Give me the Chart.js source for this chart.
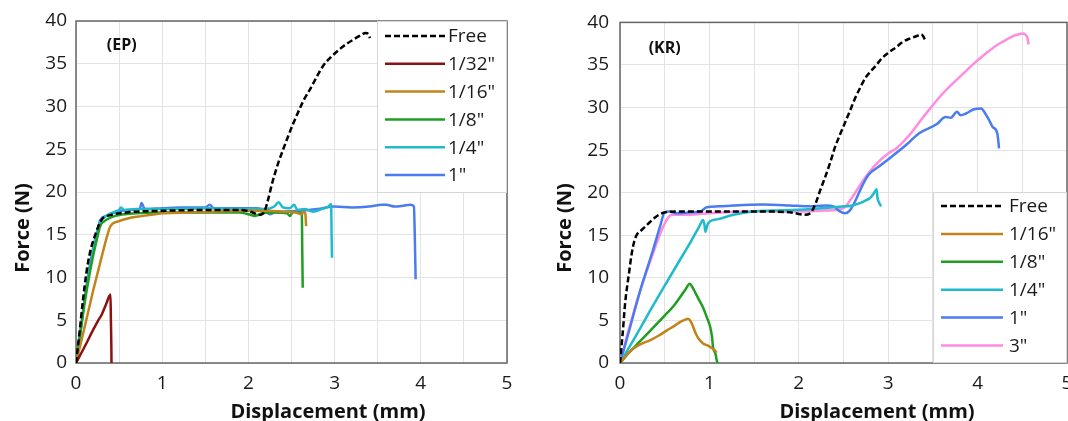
<!DOCTYPE html>
<html><head><meta charset="utf-8">
<script src="https://cdn.jsdelivr.net/npm/chart.js@4.4.1/dist/chart.umd.min.js"></script>
<style>
html,body{margin:0;padding:0;width:1068px;height:421px;overflow:hidden;background:#fff;}
#wl{position:absolute;left:0;top:0;width:534px;height:421px;}
#wr{position:absolute;left:534px;top:0;width:560px;height:421px;}
canvas{display:block;}
</style></head><body>
<div id="wl"><canvas id="cl" width="534" height="421" style="width:534px;height:421px"></canvas></div>
<div id="wr"><canvas id="cr" width="560" height="421" style="width:560px;height:421px"></canvas></div>
<script>
// ---------- data (displacement mm, force N) ----------
const xTickValues = [0, 1, 2, 3, 4, 5];
const yTickValues = [0, 5, 10, 15, 20, 25, 30, 35, 40];

const epLabels = ['Free', '1/32"', '1/16"', '1/8"', '1/4"', '1"'];
const krLabels = ['Free', '1/16"', '1/8"', '1/4"', '1"', '3"'];

const epFree = [[0,0],[0.04,3.5],[0.08,7.3],[0.12,10.5],[0.16,12.8],[0.22,14.9],[0.3,16.8],[0.4,17.3],[0.5,17.5],[0.7,17.7],[1.0,17.8],[1.5,17.9],[1.9,17.9],[2.05,17.6],[2.12,17.3],[2.18,17.6],[2.22,18.8],[2.28,21.2],[2.34,23.2],[2.40,24.9],[2.46,26.5],[2.52,28.0],[2.58,29.4],[2.64,30.7],[2.72,32.1],[2.8,33.6],[2.87,34.8],[2.97,35.9],[3.07,36.8],[3.15,37.4],[3.23,37.9],[3.3,38.3],[3.36,38.6],[3.39,38.5],[3.41,38.0]];
const ep132 = [[0,0],[0.1,1.9],[0.2,3.9],[0.27,5.2],[0.29,5.5],[0.35,6.9],[0.4,8.0],[0.405,5],[0.41,2],[0.412,0]];
const ep116 = [[0,0],[0.1,4.2],[0.2,8.5],[0.3,12.5],[0.36,14.8],[0.4,16.0],[0.5,16.6],[0.6,16.9],[0.7,17.1],[0.85,17.3],[1.0,17.5],[1.3,17.6],[1.6,17.7],[2.0,17.8],[2.2,17.8],[2.4,17.7],[2.55,17.6],[2.62,17.4],[2.64,17.7],[2.66,17.5],[2.67,16.0]];
const ep18 = [[0,0],[0.05,3.5],[0.1,7.0],[0.15,10],[0.2,12.6],[0.25,14.8],[0.28,16.0],[0.33,16.6],[0.4,17.0],[0.5,17.3],[0.7,17.5],[1.0,17.6],[1.5,17.6],[1.9,17.6],[2.0,17.4],[2.08,17.2],[2.15,17.5],[2.3,17.6],[2.45,17.5],[2.48,17.2],[2.52,17.7],[2.58,17.6],[2.62,17.4],[2.625,13],[2.63,8.8]];
const ep14 = [[0,0],[0.05,3.5],[0.1,7.3],[0.15,10.5],[0.2,13.2],[0.25,15.5],[0.28,16.5],[0.35,17.2],[0.45,17.7],[0.5,17.9],[0.52,18.2],[0.56,17.9],[0.7,18.0],[1.0,18.0],[1.5,18.1],[2.0,18.0],[2.2,18.0],[2.3,18.3],[2.35,18.8],[2.4,18.2],[2.48,18.1],[2.53,18.5],[2.57,17.9],[2.65,18.0],[2.75,17.7],[2.85,18.0],[2.93,18.3],[2.96,18.6],[2.965,15],[2.97,12.3]];
const ep1 = [[0,0],[0.05,3.6],[0.1,7.5],[0.15,10.8],[0.2,13.5],[0.25,15.6],[0.28,16.7],[0.35,17.2],[0.45,17.6],[0.6,17.9],[0.74,18.0],[0.76,18.7],[0.8,18.0],[1.0,18.1],[1.2,18.2],[1.5,18.2],[1.55,18.5],[1.6,18.1],[1.9,18.1],[2.1,18.1],[2.18,17.9],[2.25,17.4],[2.3,17.6],[2.4,17.7],[2.6,17.8],[2.8,18.0],[3.0,18.3],[3.2,18.2],[3.4,18.3],[3.55,18.5],[3.6,18.5],[3.7,18.3],[3.8,18.4],[3.88,18.5],[3.92,18.3],[3.93,15],[3.94,9.8]];

const krFree = [[0,0],[0.03,3.5],[0.06,7.3],[0.1,10.5],[0.13,12.8],[0.16,14.3],[0.19,15.1],[0.23,15.5],[0.27,15.9],[0.33,16.5],[0.38,17.0],[0.45,17.5],[0.51,17.7],[0.7,17.8],[1.0,17.8],[1.5,17.8],[1.9,17.7],[2.0,17.5],[2.06,17.4],[2.13,17.6],[2.19,18.8],[2.24,20.3],[2.29,21.7],[2.35,23.5],[2.4,25.2],[2.46,26.8],[2.52,28.3],[2.58,29.8],[2.63,31.1],[2.69,32.4],[2.74,33.4],[2.8,34.2],[2.86,34.9],[2.93,35.8],[3.01,36.5],[3.09,37.1],[3.16,37.7],[3.24,38.1],[3.32,38.4],[3.37,38.6],[3.39,38.4],[3.41,38.0]];
const kr116 = [[0,0],[0.08,1.0],[0.15,1.7],[0.25,2.3],[0.34,2.7],[0.43,3.2],[0.52,3.8],[0.6,4.3],[0.67,4.8],[0.73,5.1],[0.76,5.2],[0.79,4.9],[0.82,4.2],[0.85,3.4],[0.88,2.85],[0.93,2.3],[0.97,2.1],[1.01,1.87],[1.06,1.5],[1.08,1.2]];
const kr18 = [[0,0],[0.1,1.2],[0.2,2.3],[0.34,3.8],[0.43,4.8],[0.52,5.8],[0.6,6.7],[0.67,7.7],[0.73,8.6],[0.78,9.3],[0.81,8.9],[0.84,8.3],[0.88,7.5],[0.93,6.5],[0.97,5.4],[1.01,4.2],[1.03,3.0],[1.04,1.9],[1.07,1.0],[1.08,0.4],[1.09,0]];
const kr14 = [[0,0],[0.1,1.8],[0.2,3.6],[0.34,6.2],[0.5,9.1],[0.71,12.8],[0.8,14.4],[0.88,15.9],[0.93,16.8],[0.945,16.2],[0.955,15.4],[0.98,16.3],[1.01,16.65],[1.1,16.9],[1.27,17.4],[1.49,17.8],[1.7,17.9],[2.0,18.0],[2.3,18.2],[2.52,18.4],[2.6,18.5],[2.69,18.8],[2.75,19.1],[2.8,19.4],[2.85,20.1],[2.87,20.4],[2.88,19.4],[2.9,18.8],[2.92,18.4]];
const kr1 = [[0,0],[0.1,3.7],[0.22,8.3],[0.37,13.3],[0.45,16.1],[0.5,17.7],[0.55,17.8],[0.63,17.6],[0.8,17.7],[0.9,17.8],[0.97,18.3],[1.1,18.4],[1.27,18.5],[1.6,18.6],[1.9,18.5],[2.1,18.4],[2.3,18.5],[2.39,18.4],[2.46,17.8],[2.52,17.6],[2.57,17.9],[2.63,19.0],[2.7,20.6],[2.78,22.1],[2.9,23.1],[3.01,24.0],[3.2,25.6],[3.35,27.0],[3.55,28.1],[3.64,28.9],[3.7,28.8],[3.77,29.5],[3.81,29.1],[3.87,29.3],[3.96,29.8],[4.04,29.9],[4.08,29.4],[4.12,28.7],[4.17,27.7],[4.22,27.0],[4.24,25.2]];
const kr3 = [[0,0],[0.1,4.0],[0.22,8.3],[0.37,12.9],[0.47,15.7],[0.54,17.1],[0.58,17.4],[0.7,17.4],[1.0,17.6],[1.5,17.8],[2.0,17.8],[2.3,17.9],[2.5,18.2],[2.6,19.5],[2.71,21.3],[2.86,23.3],[3.0,24.6],[3.09,25.2],[3.24,26.8],[3.35,28.3],[3.47,29.9],[3.58,31.3],[3.7,32.6],[3.82,33.8],[3.93,34.9],[4.05,36.0],[4.16,36.9],[4.24,37.5],[4.31,37.9],[4.4,38.4],[4.46,38.6],[4.5,38.7],[4.53,38.6],[4.56,38.1],[4.57,37.4]];

// ---------- styles ----------
const COLORS = {'Free':'#000000','1/32"':'#8b1212','1/16"':'#c2841a','1/8"':'#1f9e22','1/4"':'#1fbacb','1"':'#4a7bf0','3"':'#ff8ce0'};
const FONT = '"Open Sans", "DejaVu Sans", sans-serif';

function ds(label, pts) {
  return {
    label,
    data: pts.map(p => ({x: p[0], y: p[1]})),
    borderColor: COLORS[label],
    backgroundColor: COLORS[label],
    borderWidth: 2.5,
    borderDash: label === 'Free' ? [6, 3] : [],
    pointRadius: 0,
    cubicInterpolationMode: 'monotone',
    fill: false
  };
}

const decor = {
  id: 'decor',
  beforeDatasetsDraw(chart) {
    const {ctx, chartArea: a} = chart;
    ctx.save();
    ctx.strokeStyle = '#666666'; ctx.lineWidth = 1.5;
    ctx.strokeRect(a.left, a.top, a.right - a.left, a.bottom - a.top);
    ctx.restore();
  },
  afterDraw(chart, args, o) {
    const {ctx, scales: {x, y}} = chart;
    ctx.save();
    ctx.fillStyle = '#111';
    ctx.textAlign = 'center'; ctx.textBaseline = 'middle';
    ctx.font = 'bold 16px ' + FONT;
    ctx.fillText(o.tag, x.getPixelForValue(o.tagAt[0]), y.getPixelForValue(o.tagAt[1]));
    ctx.font = 'bold 20px ' + FONT;
    ctx.textBaseline = 'alphabetic';
    ctx.fillText(o.xTitle, o.xTitlePos[0], o.xTitlePos[1]);
    ctx.save();
    ctx.translate(o.yTitlePos[0], o.yTitlePos[1]); ctx.rotate(-Math.PI / 2);
    ctx.textBaseline = 'middle';
    ctx.fillText(o.yTitle, 0, 0);
    ctx.restore();
    // legend
    const L = o.legend;
    ctx.fillStyle = '#ffffff';
    ctx.fillRect(L.x, L.y, L.w, L.h);
    ctx.strokeStyle = '#d6d6d6'; ctx.lineWidth = 1;
    ctx.strokeRect(L.x + 0.5, L.y + 0.5, L.w - 1, L.h - 1);
    ctx.font = '19px ' + FONT;
    ctx.textAlign = 'left'; ctx.textBaseline = 'middle';
    chart.data.datasets.forEach((d, i) => {
      const yy = L.row0 + i * L.rowH;
      ctx.beginPath();
      ctx.setLineDash(d.borderDash || []);
      ctx.strokeStyle = d.borderColor; ctx.lineWidth = 2.5;
      ctx.moveTo(L.line0, yy); ctx.lineTo(L.line1, yy); ctx.stroke();
      ctx.setLineDash([]);
      ctx.fillStyle = '#1a1a1a';
      ctx.fillText(d.label, L.textX, yy + 1);
    });
    ctx.restore();
  }
};

function makeOptions(yAxisWidth, yPad, deco) {
  const tickFont = {family: FONT, size: 19};
  return {
    responsive: false,
    animation: false,
    layout: {padding: {top: 21, right: 27, left: 0, bottom: 0}},
    plugins: {legend: {display: false}, tooltip: {enabled: false}, decor: deco},
    scales: {
      x: {
        type: 'linear', min: 0, max: 5,
        ticks: {stepSize: 0.5, autoSkip: false, maxRotation: 0, padding: 9, color: '#1a1a1a', font: tickFont,
          callback: v => (Math.abs(v - Math.round(v)) < 1e-6 && xTickValues.includes(Math.round(v))) ? String(Math.round(v)) : ''},
        grid: {color: '#e3e3e3', lineWidth: 1, drawTicks: false},
        border: {display: false},
        afterFit: s => { s.height = 58; }
      },
      y: {
        type: 'linear', min: 0, max: 40,
        ticks: {stepSize: 5, autoSkip: false, padding: yPad, color: '#1a1a1a', font: tickFont,
          callback: v => yTickValues.includes(v) ? String(v) : ''},
        grid: {color: '#e3e3e3', lineWidth: 1, drawTicks: false},
        border: {display: false},
        afterFit: s => { s.width = yAxisWidth; }
      }
    }
  };
}

const epSeries = [epFree, ep132, ep116, ep18, ep14, ep1];
const krSeries = [krFree, kr116, kr18, kr14, kr1, kr3];

new Chart(document.getElementById('cl'), {
  type: 'line',
  data: {datasets: epLabels.map((l, i) => ds(l, epSeries[i]))},
  options: makeOptions(76, 9, {
    tag: '(EP)', tagAt: [0.53, 37.2],
    xTitle: 'Displacement (mm)', xTitlePos: [328, 418],
    yTitle: 'Force (N)', yTitlePos: [23.5, 228],
    legend: {x: 377, y: 21, w: 130, h: 172, line0: 385, line1: 445, textX: 448, row0: 36, rowH: 27.8}
  }),
  plugins: [decor]
});

new Chart(document.getElementById('cr'), {
  type: 'line',
  data: {datasets: krLabels.map((l, i) => ds(l, krSeries[i]))},
  options: makeOptions(86, 11, {
    tag: '(KR)', tagAt: [0.5, 36.9],
    xTitle: 'Displacement (mm)', xTitlePos: [343, 418],
    yTitle: 'Force (N)', yTitlePos: [31.5, 228],
    legend: {x: 399, y: 192, w: 134, h: 171, line0: 407, line1: 469, textX: 475, row0: 206, rowH: 27.9}
  }),
  plugins: [decor]
});
</script>
</body></html>
